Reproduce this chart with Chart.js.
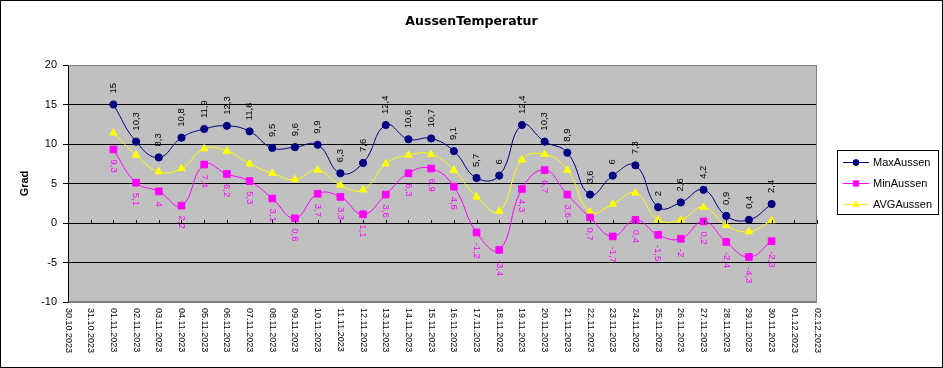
<!DOCTYPE html>
<html>
<head>
<meta charset="utf-8">
<script src="https://cdn.jsdelivr.net/npm/chart.js@4.4.0/dist/chart.umd.min.js"></script>
<style>
  body { margin: 0; background: #fff; }
  canvas { display: block; }
</style>
</head>
<body>
<canvas id="myChart" width="943" height="368"></canvas>
<script>
// categories (x axis)
const dates = [
  "30.10.2023", "31.10.2023",
  "01.11.2023", "02.11.2023", "03.11.2023", "04.11.2023", "05.11.2023",
  "06.11.2023", "07.11.2023", "08.11.2023", "09.11.2023", "10.11.2023",
  "11.11.2023", "12.11.2023", "13.11.2023", "14.11.2023", "15.11.2023",
  "16.11.2023", "17.11.2023", "18.11.2023", "19.11.2023", "20.11.2023",
  "21.11.2023", "22.11.2023", "23.11.2023", "24.11.2023", "25.11.2023",
  "26.11.2023", "27.11.2023", "28.11.2023", "29.11.2023", "30.11.2023",
  "01.12.2023", "02.12.2023"
];

// series values
const maxAussen = [null, null,
  15, 10.3, 8.3, 10.8, 11.9, 12.3, 11.6, 9.5, 9.6, 9.9,
  6.3, 7.6, 12.4, 10.6, 10.7, 9.1, 5.7, 6, 12.4, 10.3,
  8.9, 3.6, 6, 7.3, 2, 2.6, 4.2, 0.9, 0.4, 2.4,
  null, null];

const minAussen = [null, null,
  9.3, 5.1, 4, 2.2, 7.4, 6.2, 5.3, 3.1, 0.6, 3.7,
  3.3, 1.1, 3.6, 6.3, 6.9, 4.6, -1.2, -3.4, 4.3, 6.7,
  3.6, 0.7, -1.7, 0.4, -1.5, -2, 0.2, -2.4, -4.3, -2.3,
  null, null];

const avgAussen = [null, null,
  11.4, 8.6, 6.5, 6.9, 9.4, 9.1, 7.5, 6.3, 5.5, 6.7,
  4.8, 4.2, 7.5, 8.6, 8.7, 6.7, 3.3, 1.5, 8.0, 8.7,
  6.7, 1.4, 2.4, 3.8, 0.4, 0.4, 2.0, -0.3, -1.1, 0.3,
  null, null];

// y axis ticks
const yTicks = [-10, -5, 0, 5, 10, 15, 20];

const chartTitle = "AussenTemperatur";

const FONT = '"Liberation Sans", Arial, sans-serif';

// German decimal comma
function fmt(v) {
  return String(v).replace(".", ",");
}

const excelLook = {
  id: "excelLook",
  beforeDraw(chart) {
    const { ctx, chartArea: a } = chart;
    ctx.save();
    ctx.fillStyle = "#fff";
    ctx.fillRect(0, 0, chart.width, chart.height);
    ctx.fillStyle = "#c0c0c0";
    ctx.fillRect(a.left, a.top, a.right - a.left, a.bottom - a.top);
    ctx.restore();
  },
  afterDraw(chart) {
    const { ctx, chartArea: a } = chart;
    const xs = chart.scales.x;
    const ys = chart.scales.y;
    ctx.save();

    // title, centred on the whole picture
    ctx.font = 'bold 12.5px "DejaVu Sans", sans-serif';
    ctx.fillStyle = "#000";
    ctx.textAlign = "center";
    ctx.textBaseline = "middle";
    ctx.fillText(chartTitle, chart.width / 2, 22);

    // plot border (gray top / right / bottom)
    ctx.strokeStyle = "#808080";
    ctx.lineWidth = 1;
    ctx.beginPath();
    ctx.moveTo(Math.round(a.left) + 0.5, Math.round(a.top) + 0.5);
    ctx.lineTo(Math.round(a.right) - 0.5, Math.round(a.top) + 0.5);
    ctx.lineTo(Math.round(a.right) - 0.5, Math.round(a.bottom) - 0.5);
    ctx.lineTo(Math.round(a.left) + 0.5, Math.round(a.bottom) - 0.5);
    ctx.stroke();

    // tick marks on the zero line
    const y0 = Math.round(ys.getPixelForValue(0));
    ctx.strokeStyle = "#000";
    ctx.beginPath();
    dates.forEach((d, i) => {
      const x = Math.round(xs.getPixelForValue(i)) + 0.5;
      ctx.moveTo(x, y0 - 3);
      ctx.lineTo(x, y0 + 1);
    });
    ctx.stroke();

    // x labels, rotated clockwise
    ctx.font = "9px " + FONT;
    ctx.fillStyle = "#000";
    ctx.textAlign = "left";
    ctx.textBaseline = "middle";
    dates.forEach((d, i) => {
      const x = xs.getPixelForValue(i);
      ctx.save();
      ctx.translate(x, a.bottom + 6);
      ctx.rotate(Math.PI / 2);
      ctx.fillText(d, 0, 0);
      ctx.restore();
    });

    // data labels
    ctx.font = "9.5px " + FONT;
    chart.getDatasetMeta(0).data.forEach((pt, i) => {
      const v = maxAussen[i];
      if (v == null) return;
      ctx.save();
      ctx.fillStyle = "#000";
      ctx.translate(pt.x, pt.y - 11);
      ctx.rotate(-Math.PI / 2);
      ctx.fillText(fmt(v), 0, 0);
      ctx.restore();
    });
    chart.getDatasetMeta(1).data.forEach((pt, i) => {
      const v = minAussen[i];
      if (v == null) return;
      ctx.save();
      ctx.fillStyle = "#ff00ff";
      ctx.translate(pt.x, pt.y + 10);
      ctx.rotate(Math.PI / 2);
      ctx.fillText(fmt(v), 0, 0);
      ctx.restore();
    });

    // legend box
    const lx = 837, ly = 150, lw = 101, lh = 64;
    ctx.fillStyle = "#fff";
    ctx.fillRect(lx, ly, lw, lh);
    ctx.strokeStyle = "#000";
    ctx.strokeRect(lx + 0.5, ly + 0.5, lw, lh);
    ctx.font = "11px " + FONT;
    ctx.textAlign = "left";
    ctx.textBaseline = "middle";
    chart.data.datasets.forEach((ds, k) => {
      const yy = ly + 12.5 + k * 21;
      ctx.strokeStyle = ds.borderColor;
      ctx.beginPath();
      ctx.moveTo(843, yy);
      ctx.lineTo(869, yy);
      ctx.stroke();
      ctx.fillStyle = ds.pointBackgroundColor;
      ctx.strokeStyle = ds.borderColor;
      Chart.helpers.drawPoint(ctx, {
        pointStyle: ds.pointStyle,
        radius: ds.pointRadius * 0.8,
        borderWidth: 1,
        rotation: 0
      }, 856, yy);
      ctx.fillStyle = "#000";
      ctx.fillText(ds.label, 873, yy);
    });

    // outer frame
    ctx.strokeStyle = "#000";
    ctx.strokeRect(0.5, 0.5, chart.width - 1, chart.height - 1);
    ctx.restore();
  }
};

const data = {
  labels: dates,
  datasets: [
    {
      label: "MaxAussen",
      data: maxAussen,
      borderColor: "#000080",
      backgroundColor: "#000080",
      pointBackgroundColor: "#000080",
      pointStyle: "circle",
      pointRadius: 3.6,
      borderWidth: 1,
      tension: 0.45
    },
    {
      label: "MinAussen",
      data: minAussen,
      borderColor: "#ff00ff",
      backgroundColor: "#ff00ff",
      pointBackgroundColor: "#ff00ff",
      pointStyle: "rect",
      pointRadius: 4.7,
      borderWidth: 1,
      tension: 0.45
    },
    {
      label: "AVGAussen",
      data: avgAussen,
      borderColor: "#ffff00",
      backgroundColor: "#ffff00",
      pointBackgroundColor: "#ffff00",
      pointStyle: "triangle",
      pointRadius: 4.3,
      borderWidth: 1,
      tension: 0.45
    }
  ]
};

const config = {
  type: "line",
  data: data,
  options: {
    responsive: false,
    animation: false,
    layout: { padding: { right: 126, left: 0, top: 65, bottom: 0 } },
    plugins: {
      legend: { display: false },
      tooltip: { enabled: false },
      title: { display: false }
    },
    scales: {
      x: {
        type: "category",
        offset: false,
        grid: { display: false },
        border: { display: false },
        ticks: { display: false },
        afterFit: (s) => { s.height = 66; }
      },
      y: {
        min: yTicks[0],
        max: yTicks[yTicks.length - 1],
        afterBuildTicks: (s) => { s.ticks = yTicks.map((v) => ({ value: v })); },
        ticks: {
          color: "#000",
          padding: 6,
          font: { family: FONT, size: 11 }
        },
        grid: {
          color: (c) => (c.tick && (c.tick.value === 20 || c.tick.value === -10)) ? "#808080" : "#000",
          tickColor: "#000",
          tickLength: 5,
          lineWidth: 1
        },
        border: { display: true, color: "#000", width: 1 },
        title: {
          display: true,
          text: "Grad",
          color: "#000",
          font: { family: FONT, size: 11, weight: "bold" },
          padding: { top: 18, bottom: 0 }
        },
        afterFit: (s) => { s.width = 68; }
      }
    }
  },
  plugins: [excelLook]
};

let myChart = new Chart(document.getElementById("myChart"), config);
</script>
</body>
</html>
